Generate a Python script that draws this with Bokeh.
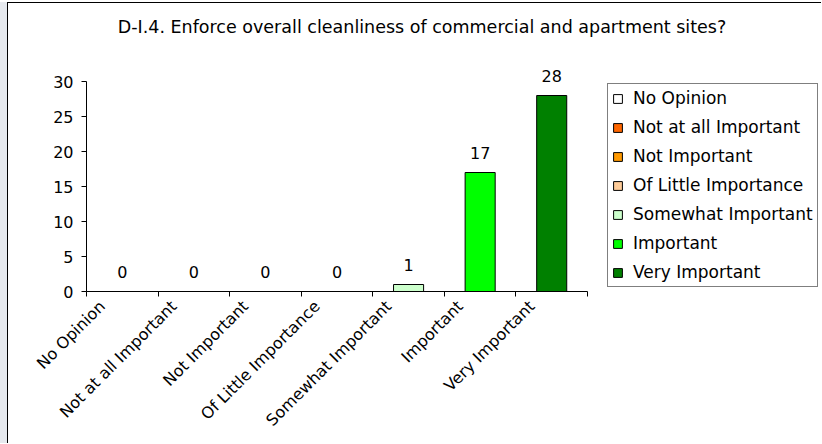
from bokeh.plotting import figure
from bokeh.models import (ColumnDataSource, FixedTicker, LabelSet, Label,
                          Legend, LegendItem)
from bokeh.core.properties import value
from bokeh.embed import file_html
from bokeh.resources import INLINE

title_text = "D-I.4. Enforce overall cleanliness of commercial and apartment sites?"
categories = ["No Opinion", "Not at all Important", "Not Important",
              "Of Little Importance", "Somewhat Important", "Important",
              "Very Important"]
counts = [0, 0, 0, 0, 1, 17, 28]
colors = ["#FFFFFF", "#FF6600", "#FF9900", "#FFCC99", "#CCFFCC", "#00FF00", "#008000"]
y_ticks = [0, 5, 10, 15, 20, 25, 30]

FONT = "DejaVu Sans"

# layout (pixels, canvas coordinates)
W, H = 814, 441
LEFT, BOTTOM_MARGIN = 78, 153
CAT_PX = 501 / 7          # pixel width of one category
UNIT_PX = 7               # pixels per count
frame_w = W - LEFT - 1
frame_h = H - BOTTOM_MARGIN

n = len(categories)
xpos = [i + 0.5 for i in range(n)]
label_pos = [i + 0.22 for i in range(n)]
src = ColumnDataSource(dict(x=xpos, top=counts, cat=categories, color=colors,
                            lab=[str(c) for c in counts]))

p = figure(width=W, height=H, x_range=(0, frame_w / CAT_PX),
           y_range=(0, frame_h / UNIT_PX),
           output_backend="svg", toolbar_location=None, title=None,
           min_border_left=LEFT, min_border_right=1, min_border_top=0,
           min_border_bottom=BOTTOM_MARGIN)
p.styles = {"margin-left": "7px", "margin-top": "2px",
            "border-top": "1px solid black", "border-left": "1px solid black",
            "box-shadow": "-7px 0px 0px 0px #E6E9EE"}
p.outline_line_color = None
p.xgrid.visible = False
p.ygrid.visible = False
p.background_fill_color = "white"
p.border_fill_color = "white"

r = p.vbar(x="x", top="top", width=0.42, source=src, fill_color="color",
           line_color="black", line_width=1)

# x axis: labels near centres, ticks at category boundaries
xa = p.xaxis[0]
xa.bounds = (0, n)
xa.ticker = FixedTicker(ticks=label_pos, minor_ticks=list(range(n + 1)))
xa.major_label_overrides = {x: c for x, c in zip(label_pos, categories)}
xa.major_tick_line_color = None
xa.minor_tick_line_color = "black"
xa.minor_tick_out = 5
xa.minor_tick_in = 0
xa.major_label_orientation = 0.785398
xa.major_label_text_font = FONT
xa.major_label_text_font_size = "16px"
xa.major_label_text_color = "black"
xa.axis_line_color = "black"
xa.major_label_standoff = 6

ya = p.yaxis[0]
ya.bounds = (0, 30)
ya.ticker = FixedTicker(ticks=y_ticks)
ya.major_tick_out = 5
ya.major_tick_in = 0
ya.minor_tick_line_color = None
ya.major_label_text_font = FONT
ya.major_label_text_font_size = "16px"
ya.major_label_text_color = "black"
ya.axis_line_color = "black"
ya.major_tick_line_color = "black"
ya.major_label_standoff = 8

labels = LabelSet(x="x", y="top", text="lab", source=src, text_align="center",
                  text_baseline="middle", y_offset=20, text_font=value(FONT),
                  text_font_size="16px", text_color="black")
p.add_layout(labels)

title = Label(x=413.5 - LEFT, y=frame_h - 23, x_units="screen", y_units="screen",
              text=title_text, text_align="center", text_baseline="middle",
              text_font=FONT, text_font_size="17.5px", text_color="black")
p.add_layout(title)

items = [LegendItem(label=c, renderers=[r], index=i) for i, c in enumerate(categories)]
legend = Legend(items=items, location=(599 - LEFT, frame_h - 284), orientation="vertical",
                glyph_width=11, glyph_height=11, label_height=20, spacing=9,
                padding=4, margin=0, label_standoff=10,
                label_text_font=FONT, label_text_font_size="17px",
                label_text_color="black", border_line_color="black",
                border_line_width=1, background_fill_color="white",
                background_fill_alpha=1)
p.add_layout(legend)

open("out.html", "w").write(file_html(p, INLINE))
